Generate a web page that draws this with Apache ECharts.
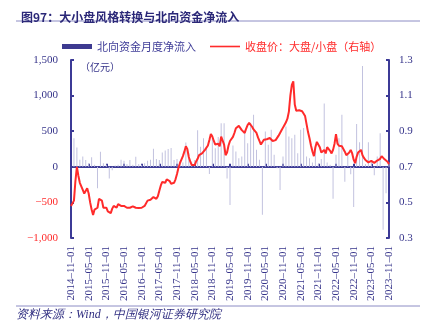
<!DOCTYPE html>
<html><head><meta charset="utf-8">
<script src="https://cdn.jsdelivr.net/npm/echarts@6/dist/echarts.min.js"></script>
<style>html,body{margin:0;padding:0;background:#fff}#c{width:431px;height:328px}</style>
</head><body><div id="c"></div>
<script>
// Monthly categories 2014-11-01 .. 2023-11-01 (tick labels)
const months = [];
for (let i = 0; i <= 108; i++) {
  const y = 2014 + Math.floor((10 + i) / 12), m = (10 + i) % 12 + 1;
  months.push(y + '-' + String(m).padStart(2, '0') + '-01');
}
// Semi-monthly dates for the ratio line
const halfMonths = [];
for (let i = 0; i <= 216; i++) {
  halfMonths.push(months[Math.floor(i / 2)].slice(0, 8) + (i % 2 ? '16' : '01'));
}
// 北向资金月度净流入 (亿元)
const northFlow = [
  0, 400, 270, 100, 145, 95, 40, 135, 30, -300,
  210, 50, 30, -165, -50, 20, 30, 100, 85, 40,
  95, 30, 140, 40, 30, 50, 85, 100, 255, 110,
  95, 200, 230, 250, 265, 95, 110, 80, 60, 340,
  190, 60, 95, 515, 280, 400, 250, -100, 400, 260,
  420, 610, 610, -165, -535, 300, 215, 120, 145, 520,
  330, 615, 730, 240, 100, -675, 495, 310, 520, 170,
  -20, -325, 145, 565, 425, 400, 450, 190, 520, 545,
  145, 120, 60, 255, 40, 110, 890, 60, 30, -450,
  170, 400, 730, -210, 170, -105, -565, 600, 345, 1415,
  40, 345, 80, -120, 145, 470, -885, -370, 60
];
// 收盘价：大盘/小盘 (右轴)
const ratio = [
  0.48,0.49,0.51,0.62,0.70,0.65,0.61,0.60,0.57,0.55,
  0.55,0.58,0.55,0.50,0.46,0.43,0.46,0.47,0.47,0.52,
  0.53,0.51,0.47,0.47,0.47,0.45,0.445,0.44,0.465,0.48,
  0.48,0.47,0.49,0.50,0.48,0.475,0.48,0.475,0.47,0.466,
  0.47,0.476,0.478,0.474,0.47,0.47,0.468,0.466,0.47,0.475,
  0.48,0.49,0.51,0.52,0.515,0.52,0.53,0.525,0.52,0.535,
  0.565,0.595,0.615,0.62,0.61,0.63,0.64,0.62,0.605,0.60,
  0.61,0.63,0.66,0.695,0.72,0.74,0.76,0.785,0.815,0.80,
  0.755,0.73,0.71,0.70,0.71,0.73,0.745,0.765,0.757,0.775,
  0.785,0.795,0.80,0.82,0.85,0.885,0.87,0.845,0.825,0.825,
  0.83,0.815,0.87,0.87,0.825,0.765,0.78,0.82,0.845,0.855,
  0.868,0.89,0.917,0.925,0.93,0.92,0.906,0.90,0.89,0.915,
  0.935,0.947,0.937,0.925,0.91,0.90,0.89,0.865,0.845,0.825,
  0.835,0.852,0.858,0.855,0.852,0.862,0.865,0.845,0.843,0.85,
  0.86,0.875,0.89,0.905,0.92,0.935,0.95,0.97,1.01,1.10,
  1.16,1.18,1.05,1.015,1.012,1.018,1.012,1.012,1.02,0.985,
  0.94,0.895,0.86,0.82,0.786,0.76,0.81,0.84,0.83,0.81,
  0.78,0.79,0.795,0.775,0.81,0.81,0.79,0.775,0.795,0.83,
  0.884,0.83,0.818,0.815,0.815,0.82,0.785,0.765,0.76,0.78,
  0.795,0.775,0.74,0.72,0.756,0.78,0.79,0.795,0.765,0.75,
  0.738,0.73,0.725,0.72,0.733,0.735,0.722,0.725,0.735,0.725,
  0.745,0.76,0.75,0.742,0.735,0.728,0.715
];
const leftTicks = {min: -1000, max: 1500, interval: 500};
const rightTicks = {min: 0.3, max: 1.3, interval: 0.2};

const NAVY = '#36348a', RED = '#ff2b2b', SERIF = '"Liberation Serif","Times New Roman",serif', CJK = '"Noto Sans CJK SC",sans-serif';
const chart = echarts.init(document.getElementById('c'), null, {renderer: 'canvas'});
function fmtNum(v) { const s = Math.abs(v).toString().replace(/\B(?=(\d{3})+(?!\d))/g, ','); return (v < 0 ? '\u2212' : '') + s; }
chart.setOption({
  animation: false,
  title: {text: '图97：大小盘风格转换与北向资金净流入', left: 16, top: 6,
    textStyle: {fontSize: 12, fontWeight: 'bold', color: '#2b2878', fontFamily: CJK}},
  legend: {left: 57, top: 36, itemWidth: 30, itemHeight: 5, itemGap: 14,
    textStyle: {fontSize: 11, fontFamily: CJK},
    data: [
      {name: '北向资金月度净流入', icon: 'rect', itemStyle: {color: '#3d3a90'}, textStyle: {color: '#3f3d98'}},
      {name: '收盘价：大盘/小盘（右轴）', icon: 'path://M0 0H30V1.6H0Z', itemStyle: {color: RED}, textStyle: {color: RED}}
    ]},
  grid: {left: 71, right: 42, top: 60, bottom: 90},
  graphic: [
    {type: 'line', shape: {x1: 16, y1: 21, x2: 420, y2: 21}, style: {stroke: '#8c8cc4', lineWidth: 1}},
    {type: 'line', shape: {x1: 16, y1: 306, x2: 420, y2: 306}, style: {stroke: '#8c8cc4', lineWidth: 1}},
    {type: 'text', left: 80, top: 62, style: {text: '（亿元）', fontSize: 10, fill: NAVY, fontFamily: CJK}},
    {type: 'text', left: 16, top: 309, style: {text: '资料来源：Wind，中国银河证券研究院', fontSize: 12, fontStyle: 'italic', fill: '#2f2d80', fontFamily: SERIF}}
  ],
  xAxis: [
    {type: 'category', data: months, boundaryGap: false, position: 'bottom',
      axisLine: {onZero: true, lineStyle: {color: '#3c3a96', width: 2}},
      axisTick: {show: true, inside: true, length: 3, interval: 5, lineStyle: {color: '#3c3a96', width: 2}},
      axisLabel: {show: false}, splitLine: {show: false}},
    {type: 'category', data: months, boundaryGap: false, position: 'bottom',
      axisLine: {show: false, onZero: false}, axisTick: {show: false},
      axisLabel: {interval: 5, rotate: 90, margin: 8, fontSize: 11, color: NAVY, fontFamily: SERIF,
        formatter: v => v.replace(/-/g, '\u2013')}},
    {type: 'category', data: halfMonths, boundaryGap: false, show: false}
  ],
  yAxis: [
    {type: 'value', min: leftTicks.min, max: leftTicks.max, interval: leftTicks.interval,
      axisLine: {show: true, lineStyle: {color: '#3c3a96', width: 2}},
      axisTick: {show: true, inside: true, length: 3, lineStyle: {color: '#3c3a96', width: 2}},
      splitLine: {show: false},
      axisLabel: {margin: 13, fontSize: 11, fontFamily: SERIF,
        formatter: v => v < 0 ? '{neg|' + fmtNum(v) + '}' : '{pos|' + fmtNum(v) + '}',
        rich: {neg: {color: RED, fontSize: 11, fontFamily: SERIF}, pos: {color: NAVY, fontSize: 11, fontFamily: SERIF}}}},
    {type: 'value', min: rightTicks.min, max: rightTicks.max, interval: rightTicks.interval, position: 'right',
      axisLine: {show: true, lineStyle: {color: '#3c3a96', width: 2}},
      axisTick: {show: true, inside: true, length: 3, lineStyle: {color: '#3c3a96', width: 2}},
      splitLine: {show: false},
      axisLabel: {margin: 10, fontSize: 11, color: NAVY, fontFamily: SERIF, formatter: v => v.toFixed(1)}}
  ],
  series: [
    {name: '北向资金月度净流入', type: 'bar', xAxisIndex: 0, yAxisIndex: 0, data: northFlow,
      barWidth: 1, itemStyle: {color: '#c2c2df'}, z: 1},
    {name: '收盘价：大盘/小盘（右轴）', type: 'line', xAxisIndex: 2, yAxisIndex: 1, data: ratio,
      showSymbol: false, symbol: 'none', lineStyle: {color: RED, width: 2}, itemStyle: {color: RED}, z: 3}
  ]
});
</script></body></html>
